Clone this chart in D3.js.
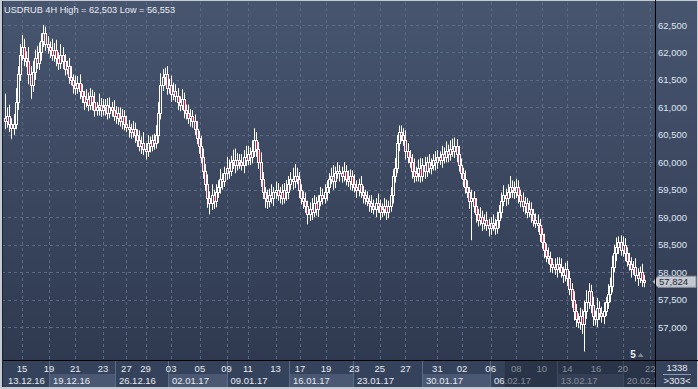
<!DOCTYPE html>
<html>
<head>
<meta charset="utf-8">
<style>
  html, body { margin: 0; padding: 0; background: #3a4660; }
  svg { display: block; font-family: "Liberation Sans", Arial, Helvetica, sans-serif; }
</style>
</head>
<body>
<script src="https://cdnjs.cloudflare.com/ajax/libs/d3/7.8.5/d3.min.js"></script>
<script>
// 4H closes (open = previous close)
const firstOpen = 60.80;
const closes = [
  60.75, 60.85, 60.70, 60.62, 60.70, 61.10, 61.60, 61.95, 62.10, 61.90,
  61.85, 61.60, 61.40, 61.65, 61.90, 61.80, 62.00, 62.20, 62.35, 62.15,
  62.10, 62.05, 61.95, 62.05, 61.90, 61.80, 61.95, 61.85, 61.70, 61.75,
  61.55, 61.50, 61.40, 61.35, 61.45, 61.30, 61.20, 61.10, 61.15, 61.05,
  61.20, 61.10, 60.95, 61.00, 61.05, 60.95, 61.00, 61.05, 60.90, 61.00,
  60.95, 60.85, 60.90, 60.80, 60.75, 60.85, 60.70, 60.65, 60.60, 60.55,
  60.60, 60.50, 60.40, 60.30, 60.35, 60.25, 60.20, 60.35, 60.30, 60.40,
  60.35, 60.50, 60.90, 61.40, 61.55, 61.60, 61.35, 61.40, 61.25, 61.30,
  61.20, 61.10, 61.05, 61.15, 60.95, 60.90, 60.80, 60.85, 60.75, 60.60,
  60.45, 60.30, 60.10, 59.85, 59.60, 59.35, 59.25, 59.40, 59.30, 59.45,
  59.55, 59.70, 59.65, 59.80, 59.90, 59.85, 60.00, 60.05, 59.95, 60.05,
  60.00, 59.95, 60.10, 60.05, 60.15, 60.10, 60.20, 60.40, 60.25, 60.00,
  59.70, 59.45, 59.35, 59.30, 59.40, 59.35, 59.45, 59.50, 59.40, 59.45,
  59.35, 59.50, 59.45, 59.60, 59.70, 59.65, 59.75, 59.70, 59.50, 59.35,
  59.30, 59.20, 59.05, 59.15, 59.10, 59.25, 59.15, 59.30, 59.40, 59.35,
  59.45, 59.55, 59.70, 59.75, 59.65, 59.80, 59.85, 59.80, 59.75, 59.85,
  59.70, 59.65, 59.75, 59.60, 59.55, 59.50, 59.60, 59.45, 59.40, 59.35,
  59.30, 59.25, 59.20, 59.15, 59.25, 59.20, 59.10, 59.15, 59.20, 59.10,
  59.20, 59.40, 59.75, 59.90, 60.35, 60.55, 60.50, 60.40, 60.20, 60.10,
  60.00, 59.85, 59.75, 59.80, 59.90, 59.75, 59.95, 59.85, 60.00, 59.90,
  59.95, 60.05, 60.00, 60.10, 60.05, 60.15, 60.10, 60.20, 60.15, 60.25,
  60.20, 60.30, 60.15, 59.95, 59.80, 59.70, 59.55, 59.45, 59.30, 59.35,
  59.20, 59.05, 58.95, 59.00, 58.90, 58.95, 58.85, 58.80, 58.90, 58.85,
  58.80, 58.95, 59.10, 59.30, 59.40, 59.35, 59.45, 59.55, 59.50, 59.45,
  59.55, 59.40, 59.30, 59.20, 59.25, 59.10, 59.15, 59.05, 58.95, 58.90,
  58.85, 58.70, 58.55, 58.40, 58.30, 58.25, 58.15, 58.10, 58.05, 58.15,
  58.10, 58.00, 57.95, 58.05, 57.90, 57.70, 57.50, 57.30, 57.15, 57.10,
  57.20, 57.05, 57.30, 57.45, 57.65, 57.40, 57.20, 57.15, 57.35, 57.25,
  57.20, 57.30, 57.45, 57.60, 57.75, 58.10, 58.35, 58.45, 58.55, 58.40,
  58.50, 58.35, 58.20, 58.15, 58.05, 58.10, 57.95, 57.90, 58.00, 57.85, 57.824
];
// wick lengths above / below the body, in kopecks
const upWick = [
  45, 15, 20, 10, 18, 25, 15, 20, 22, 15,
  12, 25, 15, 20, 15, 22, 18, 15, 15.3, 12,
  15, 10, 20, 12, 18, 10, 20, 15, 12, 10,
  15, 20, 10, 18, 12, 15, 12, 10, 18, 12,
  15, 12, 18, 10, 20, 12, 15, 10, 12, 18,
  10, 18, 12, 10, 20, 12, 10, 15, 12, 10,
  15, 12, 10, 18, 12, 20, 10, 15, 12, 10,
  12, 18, 20, 22, 15, 12, 15, 12, 18, 15,
  12, 15, 10, 18, 12, 10, 15, 12, 10, 12,
  15, 12, 18, 15, 12, 18, 12, 20, 10, 15,
  12, 18, 10, 12, 20, 15, 12, 18, 20, 12,
  10, 15, 12, 20, 15, 12, 20, 22, 15, 12,
  18, 12, 10, 15, 12, 20, 10, 15, 12, 10,
  15, 12, 18, 15, 12, 20, 22, 15, 12, 10,
  12, 15, 10, 12, 20, 15, 12, 10, 15, 12,
  15, 12, 10, 15, 20, 12, 15, 10, 12, 15,
  10, 15, 12, 10, 18, 12, 10, 15, 12, 10,
  12, 10, 15, 12, 10, 18, 12, 10, 15, 12,
  10, 15, 12, 18, 15, 12, 12, 12, 18, 15,
  12, 15, 22, 12, 15, 18, 12, 15, 10, 15,
  12, 10, 15, 12, 10, 15, 12, 18, 12, 15,
  18, 15, 12, 15, 12, 10, 15, 12, 10, 15,
  12, 15, 10, 18, 12, 10, 15, 12, 10, 15,
  12, 15, 12, 15, 18, 12, 15, 20, 12, 15,
  15, 12, 10, 15, 12, 10, 15, 12, 10, 12,
  15, 12, 10, 15, 12, 15, 12, 10, 15, 12,
  12, 15, 10, 12, 15, 12, 10, 15, 12, 10,
  15, 12, 18, 22, 15, 12, 15, 10, 18, 12,
  12, 15, 10, 18, 15, 20, 15, 18, 10, 12,
  15, 12, 10, 15, 12, 10, 15, 12, 10, 15, 10
];
const downWick = [
  15, 12, 15, 20, 12, 10, 15, 12, 10, 15,
  12, 18, 25, 12, 15, 10, 12, 15, 10, 12,
  12, 15, 10, 12, 15, 12, 10, 15, 12, 10,
  12, 10, 15, 12, 10, 15, 12, 15, 10, 12,
  10, 15, 12, 10, 15, 12, 10, 15, 12, 10,
  12, 10, 15, 12, 10, 15, 12, 10, 15, 12,
  10, 15, 12, 10, 15, 12, 15, 10, 12, 10,
  12, 10, 15, 12, 10, 15, 12, 10, 15, 12,
  10, 15, 12, 10, 15, 12, 10, 15, 12, 10,
  12, 15, 12, 15, 12, 18, 20, 12, 15, 12,
  10, 12, 15, 10, 12, 15, 10, 12, 15, 10,
  12, 10, 15, 12, 10, 15, 12, 10, 15, 12,
  15, 12, 18, 15, 12, 10, 15, 12, 10, 15,
  12, 10, 15, 12, 10, 15, 12, 10, 15, 12,
  15, 12, 18, 12, 15, 10, 12, 15, 10, 12,
  10, 15, 12, 10, 15, 12, 10, 15, 12, 10,
  12, 10, 15, 12, 10, 15, 12, 10, 15, 12,
  10, 15, 12, 10, 15, 12, 15, 10, 12, 15,
  12, 10, 15, 12, 10, 15, 12, 10, 15, 12,
  10, 15, 12, 10, 15, 12, 10, 15, 12, 10,
  12, 10, 15, 12, 10, 15, 12, 10, 15, 12,
  10, 12, 15, 12, 10, 15, 12, 10, 15, 72,
  12, 15, 12, 10, 15, 12, 10, 15, 12, 10,
  12, 10, 15, 12, 10, 15, 12, 10, 15, 12,
  10, 15, 12, 10, 15, 12, 10, 15, 12, 10,
  12, 15, 12, 15, 12, 10, 15, 12, 10, 15,
  12, 10, 15, 12, 15, 12, 15, 18, 15, 12,
  15, 18, 49.7, 15, 12, 15, 18, 12, 15, 12,
  12, 15, 10, 12, 15, 12, 10, 15, 12, 10,
  12, 15, 10, 12, 15, 10, 12, 15, 10, 12, 10
];

const priceTicks = [57, 57.5, 58, 58.5, 59, 59.5, 60, 60.5, 61, 61.5, 62, 62.5];
// day labels and the bar index they sit at
const dayLabels = ["15", "19", "21", "23", "27", "29", "03", "05", "09", "11", "13", "17", "19",
  "23", "25", "27", "31", "02", "06", "08", "10", "14", "16", "20", "22"];
const dayBars = [8, 20.7, 33, 46, 57, 66, 78, 91.5, 104, 114, 127, 138.5, 150.7,
  164, 176, 188, 203, 214.6, 228, 240, 252, 264, 277.5, 290, 303];
const weekLabels = ["13.12.16", "19.12.16", "26.12.16", "02.01.17", "09.01.17", "16.01.17",
  "23.01.17", "30.01.17", "06.02.17", "13.02.17", "20.02.17"];
const weekBars = [-0.5, 20.7, 51.6, 76.5, 104, 133.3, 163.4, 195.8, 227.7, 259, 290];
const dimFromBar = 234.7;

const W = 698, H = 389;
const plotRight = 655, axisTop = 361, axisBottom = 387;

const candles = closes.map((c, i) => {
  const o = i === 0 ? firstOpen : closes[i - 1];
  return {
    i: i, open: o, close: c,
    high: Math.max(o, c) + upWick[i] / 100,
    low: Math.min(o, c) - downWick[i] / 100,
  };
});

const x = d3.scaleLinear().domain([0, 300]).range([5, 644]);
const y = d3.scaleLinear().domain([57, 62.5]).range([327, 25]);
const fmt = (v) => v.toFixed(3).replace(".", ",");

const svg = d3.select("body").append("svg").attr("width", W).attr("height", H);
const defs = svg.append("defs");

const grad = defs.append("linearGradient").attr("id", "bg")
  .attr("x1", 0).attr("y1", 0).attr("x2", 0).attr("y2", 1);
grad.append("stop").attr("offset", "0%").attr("stop-color", "#48556f");
grad.append("stop").attr("offset", "100%").attr("stop-color", "#2d384e");

defs.append("clipPath").attr("id", "plotClip")
  .append("rect").attr("x", 2).attr("y", 2).attr("width", plotRight - 2).attr("height", axisTop - 2);
defs.append("clipPath").attr("id", "axisClip")
  .append("rect").attr("x", 2).attr("y", axisTop).attr("width", plotRight - 2).attr("height", axisBottom - axisTop);

// backgrounds
svg.append("rect").attr("width", W).attr("height", H).attr("fill", "#c6cbd3");
svg.append("rect").attr("x", 2).attr("y", 1).attr("width", W - 3).attr("height", axisBottom - 1)
  .attr("fill", "url(#bg)");

// grid
const grid = svg.append("g").attr("clip-path", "url(#plotClip)")
  .attr("stroke", "#5b6883").attr("stroke-dasharray", "3,3").attr("stroke-width", 1);
priceTicks.forEach((v) => {
  const yy = Math.round(y(v)) + 0.5;
  grid.append("line").attr("x1", 2).attr("x2", plotRight).attr("y1", yy).attr("y2", yy);
});
dayBars.forEach((b) => {
  const xx = Math.round(x(b)) + 0.5;
  grid.append("line").attr("x1", xx).attr("x2", xx).attr("y1", 2).attr("y2", axisTop);
});

// candles
const cg = svg.append("g").attr("clip-path", "url(#plotClip)");
const cx = (d) => Math.round(x(d.i)) + 0.5;
const bodyTop = (d) => Math.round(y(Math.max(d.open, d.close))) + 0.5;
const bodyBot = (d) => Math.max(Math.round(y(Math.min(d.open, d.close))) + 0.5, bodyTop(d) + 1);

const candle = cg.selectAll("g.c").data(candles).join("g").attr("class", "c");
candle.append("line")
  .attr("x1", cx).attr("x2", cx)
  .attr("y1", (d) => y(d.high)).attr("y2", bodyTop)
  .attr("stroke", "#ffffff");
candle.append("line")
  .attr("x1", cx).attr("x2", cx)
  .attr("y1", bodyBot).attr("y2", (d) => y(d.low))
  .attr("stroke", "#ffffff");
candle.append("rect")
  .attr("x", (d) => cx(d) - 1)
  .attr("width", 2)
  .attr("y", bodyTop)
  .attr("height", (d) => bodyBot(d) - bodyTop(d))
  .attr("fill", (d) => (d.close < d.open ? "#e3123b" : "none"))
  .attr("stroke", "#ffffff");

// title
svg.append("text").attr("x", 4).attr("y", 13)
  .attr("font-size", 9.2).attr("fill", "#e9edf3")
  .text("USDRUB 4H High = " + fmt(d3.max(candles, (d) => d.high)) +
        " Low = " + fmt(d3.min(candles, (d) => d.low)));

// small marker near bottom right of plot
svg.append("text").attr("x", x(293.5)).attr("y", 358)
  .attr("font-size", 10).attr("font-weight", "bold").attr("fill", "#e9edf3").text("5");
svg.append("path").attr("d", `M${x(297)},357 l3,-4 l3,4 z`).attr("fill", "#7b8598");

// bottom axis
const axisG = svg.append("g").attr("clip-path", "url(#axisClip)");
axisG.append("rect").attr("x", 2).attr("y", axisTop).attr("width", plotRight).attr("height", axisBottom - axisTop)
  .attr("fill", "#35425b");
weekBars.forEach((b, k) => {
  const x0 = Math.round(x(b)) + 0.5;
  const x1 = k + 1 < weekBars.length ? Math.round(x(weekBars[k + 1])) + 0.5 : plotRight;
  if (k % 2 === 1) {
    axisG.append("rect").attr("x", x0).attr("y", 374).attr("width", x1 - x0).attr("height", axisBottom - 374)
      .attr("fill", "#4a5873");
  }
  if (k > 0) {
    axisG.append("line").attr("x1", x0).attr("x2", x0).attr("y1", axisTop).attr("y2", axisBottom)
      .attr("stroke", "#5e6b85");
  }
  axisG.append("text").attr("x", x(b) + 4).attr("y", 384)
    .attr("font-size", 9.5).attr("fill", "#e6eaf0").text(weekLabels[k]);
});
dayLabels.forEach((t, k) => {
  axisG.append("text").attr("x", x(dayBars[k])).attr("y", 372)
    .attr("text-anchor", "middle").attr("font-size", 9.5).attr("fill", "#e6eaf0").text(t);
});
axisG.append("rect").attr("x", x(dimFromBar)).attr("y", axisTop)
  .attr("width", plotRight - x(dimFromBar)).attr("height", axisBottom - axisTop)
  .attr("fill", "#1d2638").attr("opacity", 0.5);

// right price axis
priceTicks.forEach((v) => {
  svg.append("text").attr("x", 658).attr("y", y(v) + 3.5)
    .attr("font-size", 9.5).attr("fill", "#dfe6f2").text(fmt(v));
});
const last = closes[closes.length - 1];
const ly = y(last);
svg.append("path")
  .attr("d", `M653,${ly} L658,${ly - 5.5} L696,${ly - 5.5} L696,${ly + 5.5} L658,${ly + 5.5} Z`)
  .attr("fill", "#c4c8d0").attr("stroke", "#8d95a3");
svg.append("text").attr("x", 659).attr("y", ly + 3.5)
  .attr("font-size", 9.5).attr("fill", "#1f2733").text(fmt(last));

// bottom right corner box
svg.append("rect").attr("x", plotRight + 1).attr("y", axisTop).attr("width", W - plotRight - 2)
  .attr("height", axisBottom - axisTop).attr("fill", "#35425b");
svg.append("text").attr("x", 677).attr("y", 371).attr("text-anchor", "middle")
  .attr("font-size", 9.5).attr("fill", "#e6eaf0").text("1338");
svg.append("line").attr("x1", 663).attr("x2", 691).attr("y1", 374.5).attr("y2", 374.5)
  .attr("stroke", "#8f9ab0");
svg.append("text").attr("x", 677).attr("y", 384).attr("text-anchor", "middle")
  .attr("font-size", 9.5).attr("fill", "#e6eaf0").text(">303<");

// separators
svg.append("line").attr("x1", plotRight + 0.5).attr("x2", plotRight + 0.5).attr("y1", 0).attr("y2", axisBottom)
  .attr("stroke", "#000");
svg.append("line").attr("x1", 2).attr("x2", W).attr("y1", axisTop - 0.5).attr("y2", axisTop - 0.5)
  .attr("stroke", "#000");
svg.append("line").attr("x1", 2.5).attr("x2", 2.5).attr("y1", 1).attr("y2", axisBottom)
  .attr("stroke", "#1a2130");
</script>
</body>
</html>
